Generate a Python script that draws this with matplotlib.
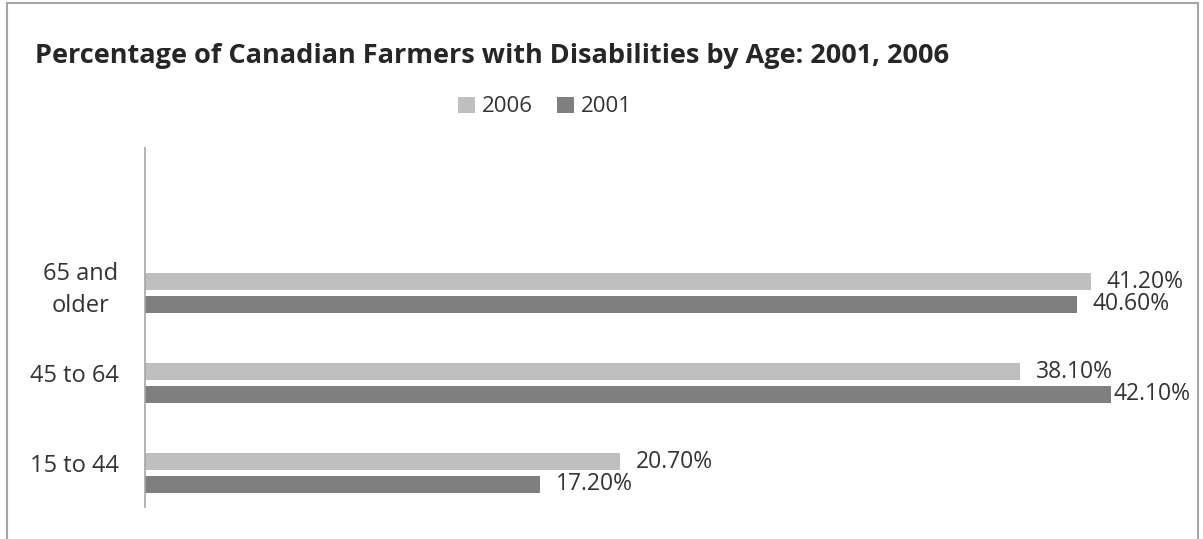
import matplotlib.pyplot as plt
import matplotlib.patches as patches
import matplotlib.transforms as mtransforms
import numpy as np

ages = ['15 to 44', '45 to 64', '65 and\nolder']
pct_2006 = [20.7, 38.1, 41.2]
pct_2001 = [17.2, 42.1, 40.6]

light = '#bfbfbf'
dark = '#7f7f7f'
txt = '#333333'

plt.rcParams['font.family'] = ['Open Sans', 'DejaVu Sans']

W, H = 1203, 539
fig = plt.figure(figsize=(W / 100, H / 100), dpi=100)

# chart border
fig.patches.append(patches.Rectangle((7 / W, -0.02), (1198 - 7) / W, 1.02 - 3 / H,
                                     transform=fig.transFigure, fill=False,
                                     edgecolor='#a6a6a6', lw=1.5))

ax = fig.add_axes([145 / W, 1 - 507 / H, 1033 / W, 359 / H])

y = np.arange(len(ages))
h = 0.19
off = 0.125
b06 = ax.barh(y + off, pct_2006, height=h, color=light, label='2006')
b01 = ax.barh(y - off, pct_2001, height=h, color=dark, label='2001')

ax.set_xlim(0, 45)
ax.set_ylim(-0.378, 3.61)
ax.set_xticks([])
ax.set_yticks(y)
ax.set_yticklabels(ages, fontsize=17, color=txt, multialignment='center', linespacing=1.45)
ax.tick_params(axis='y', length=0, pad=19)
# category labels sit a little above the group centre
shift = mtransforms.ScaledTranslation(0, 10 / 100, fig.dpi_scale_trans)
for lab in ax.get_yticklabels():
    lab.set_transform(lab.get_transform() + shift)
for s in ['top', 'right', 'bottom']:
    ax.spines[s].set_visible(False)
ax.spines['left'].set_color('#a6a6a6')
ax.spines['left'].set_linewidth(1.2)

labels = []
for bars, vals in [(b06, pct_2006), (b01, pct_2001)]:
    for bar, v in zip(bars, vals):
        t = ax.annotate(f'{v:.2f}%', (v, bar.get_y() + bar.get_height() / 2),
                        xytext=(11.5, 0), textcoords='offset points',
                        va='center', ha='left', fontsize=16.5, color=txt,
                        annotation_clip=False)
        labels.append(t)

fig.text(35 / W, 1 - 56 / H, 'Percentage of Canadian Farmers with Disabilities by Age: 2001, 2006',
         fontsize=19.5, fontweight='bold', color='#262626', va='center', ha='left')

fig.legend(handles=[b06, b01], loc='center', bbox_to_anchor=(545 / W, 1 - 107 / H),
           ncol=2, frameon=False, fontsize=16, labelcolor=txt,
           handlelength=0.75, handleheight=0.75, handletextpad=0.3, columnspacing=1.1)

# keep labels inside the chart border
fig.canvas.draw()
r = fig.canvas.get_renderer()
for t in labels:
    bb = t.get_window_extent(r)
    limit = 1190
    if bb.x1 > limit:
        dx, dy = t.xyann
        t.xyann = (dx - (bb.x1 - limit) * 72 / 100, dy)

fig.savefig('out.png', dpi=100)
